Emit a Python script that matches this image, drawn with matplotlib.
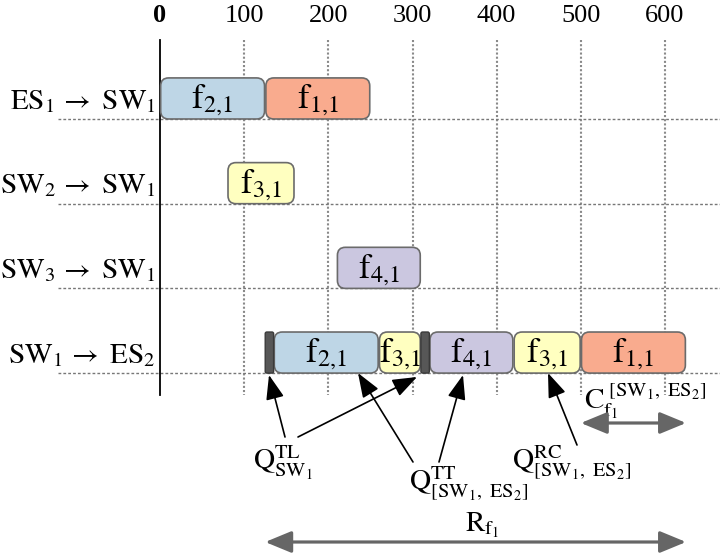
import matplotlib
matplotlib.use('Agg')
import matplotlib.pyplot as plt
from matplotlib.patches import FancyBboxPatch

plt.rcParams['font.family'] = ['Liberation Serif', 'DejaVu Serif']
plt.rcParams['mathtext.fontset'] = 'stix'

# data
ticks = [0, 100, 200, 300, 400, 500, 600]
row_labels = [r'$\mathrm{ES}_1\,\rightarrow\ \mathrm{SW}_1$',
              r'$\mathrm{SW}_2\,\rightarrow\ \mathrm{SW}_1$',
              r'$\mathrm{SW}_3\,\rightarrow\ \mathrm{SW}_1$',
              r'$\mathrm{SW}_1\,\rightarrow\ \mathrm{ES}_2$']
frame_row = [0, 0, 1, 2, 3, 3, 3, 3, 3]
frame_start = [0, 125, 80, 210, 135, 260, 320, 420, 500]
frame_end = [125, 250, 160, 310, 260, 310, 420, 500, 625]
frame_flow = ['2,1', '1,1', '3,1', '4,1', '2,1', '3,1', '4,1', '3,1', '1,1']
guard_row = 3
guard_start = [125, 310]
guard_end = [135, 320]
c_span = [500, 625]   # C_f1 on [SW1, ES2]
r_span = [125, 625]   # R_f1

flow_colors = {'1,1': '#f9ab8e', '2,1': '#bed6e6', '3,1': '#ffffc0', '4,1': '#cbc7e0'}

# layout (pixel geometry of the figure)
W, H = 720, 555
ppx = 505 / 600.0      # pixels per time unit
x0 = 160               # pixel of t=0
rowpx = 84.7           # pixels between row baselines
y0 = 119               # pixel of first row baseline
bar_h = 0.485

fig = plt.figure(figsize=(W / 100, H / 100), dpi=100)
ax = fig.add_axes([0, 0, 1, 1])
ax.set_xlim(-x0 / ppx, (W - x0) / ppx)
ax.set_ylim((H - y0) / rowpx, -y0 / rowpx)
ax.axis('off')

asp = ppx / rowpx
y_top = (40 - y0) / rowpx
y_bot = (395 - y0) / rowpx

# grid
for t in ticks[1:]:
    ax.plot([t, t], [y_top, y_bot], color='#8a8a8a', lw=1.5, ls=(0, (1, 1)), zorder=1)
for i in range(len(row_labels)):
    ax.plot([(58 - x0) / ppx, (W - x0) / ppx], [i, i], color='#777777', lw=1.0,
            ls=(0, (2, 1.5)), zorder=1)
ax.plot([0, 0], [y_top, y_bot], color='black', lw=1.3, zorder=2)

# tick labels on top
for t in ticks:
    ax.text(t, (16 - y0) / rowpx, str(t), ha='center', va='center', fontsize=19,
            fontweight='bold' if t == 0 else 'normal')

# row labels
for i, lab in enumerate(row_labels):
    ax.text(-5, i - 0.21, lab, ha='right', va='center', fontsize=21)

# frames
for r, s, e, f in zip(frame_row, frame_start, frame_end, frame_flow):
    box = FancyBboxPatch((s + 0.8, r - bar_h), e - s - 1.6, bar_h,
                         boxstyle='round,pad=0,rounding_size=9.5', mutation_aspect=asp,
                         fc=flow_colors[f], ec='#6b6b6b', lw=1.2, zorder=3)
    ax.add_patch(box)
    a, b = f.split(',')
    ax.text((s + e) / 2, r - bar_h / 2 + 0.02, r'$\mathrm{f}_{%s,\!%s}$' % (a, b),
            ha='center', va='center', fontsize=25, zorder=4)

for s, e in zip(guard_start, guard_end):
    box = FancyBboxPatch((s, guard_row - bar_h), e - s, bar_h,
                         boxstyle='round,pad=0,rounding_size=2', mutation_aspect=asp,
                         fc='#575757', ec='#3a3a3a', lw=1.0, zorder=3)
    ax.add_patch(box)

# annotations
def px(x, y):
    return ((x - x0) / ppx, (y - y0) / rowpx)

arrow_kw = dict(arrowstyle='-|>,head_length=0.75,head_width=0.28', mutation_scale=20,
                color='black', lw=1.2, shrinkA=0, shrinkB=0)
arrows = [((285, 437), (269, 375)), ((298, 437), (417, 377)),
          ((413, 462), (358, 373)), ((439, 462), (463, 375)),
          ((577, 445), (548, 373))]
for a, b in arrows:
    ax.annotate('', xy=px(*b), xytext=px(*a), arrowprops=arrow_kw, zorder=5)

ax.text(*px(283, 463), r'$\mathrm{Q}^{\mathrm{TL}}_{\mathrm{SW}_1}$', ha='center',
        va='center', fontsize=21)
ax.text(*px(469, 484), r'$\mathrm{Q}^{\mathrm{TT}}_{[\mathrm{SW}_1,\ \mathrm{ES}_2]}$',
        ha='center', va='center', fontsize=21)
ax.text(*px(572, 463), r'$\mathrm{Q}^{\mathrm{RC}}_{[\mathrm{SW}_1,\ \mathrm{ES}_2]}$',
        ha='center', va='center', fontsize=21)
ax.text(*px(645, 401), r'$\mathrm{C}^{\ [\mathrm{SW}_1,\ \mathrm{ES}_2]}_{\mathrm{f}_1}$',
        ha='center', va='center', fontsize=21)
ax.text(*px(482, 525), r'$\mathrm{R}_{\mathrm{f}_1}$', ha='center', va='center', fontsize=21)

gray_kw = dict(arrowstyle='<|-|>,head_length=0.8,head_width=0.33', mutation_scale=20,
               color='#666666', lw=2.3, shrinkA=0, shrinkB=0)
ax.annotate('', xy=(c_span[1], (423 - y0) / rowpx), xytext=(c_span[0], (423 - y0) / rowpx),
            arrowprops=gray_kw)
ax.annotate('', xy=(r_span[1], (542 - y0) / rowpx), xytext=(r_span[0], (542 - y0) / rowpx),
            arrowprops=gray_kw)

fig.savefig('out.png', dpi=100)
